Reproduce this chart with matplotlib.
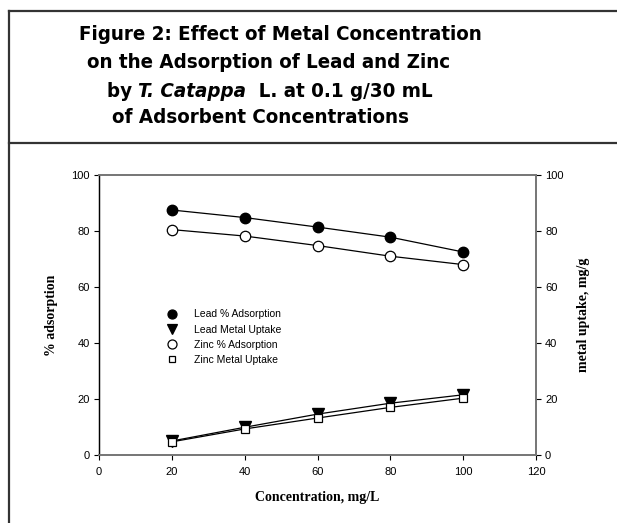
import matplotlib
matplotlib.use("Agg")
import matplotlib.pyplot as plt
from matplotlib.lines import Line2D

# metal concentration (mg/L)
concentration = [20, 40, 60, 80, 100]

# % adsorption
lead_adsorption = [87.5, 84.8, 81.4, 77.8, 72.5]
zinc_adsorption = [80.5, 78.2, 74.8, 71.0, 68.0]

# metal uptake (mg/g)
lead_uptake = [5.0, 9.9, 14.6, 18.5, 21.5]
zinc_uptake = [4.7, 9.3, 13.2, 17.0, 20.3]

x_ticks = [0, 20, 40, 60, 80, 100, 120]
y_ticks = [0, 20, 40, 60, 80, 100]

title_lines = [
    "Figure 2: Effect of Metal Concentration",
    "on the Adsorption of Lead and Zinc",
    None,  # mixed roman / italic line, built below
    "of Adsorbent Concentrations",
]

W, H = 617, 523
fig = plt.figure(figsize=(W / 100, H / 100), dpi=100)


def px(x, y):
    """pixel position (from top left) -> figure fraction"""
    return x / W, 1 - y / H


# frame around title and chart
border = dict(color="#333333", lw=1.6, transform=fig.transFigure)
fig.add_artist(Line2D([px(9, 0)[0]] * 2, [px(0, 11)[1], 0], **border))
fig.add_artist(Line2D([px(9, 0)[0], 1], [px(0, 11)[1]] * 2, **border))
fig.add_artist(Line2D([px(9, 0)[0], 1], [px(0, 143)[1]] * 2, **border))

# title
tfont = dict(family="DejaVu Sans", weight="bold", size=14.7, stretch="condensed")
centers = [280, 269, 270, 261]
baselines = [40, 68, 97, 123]
renderer = fig.canvas.get_renderer()
for line, cx, by in zip(title_lines, centers, baselines):
    if line is not None:
        fig.text(*px(cx, by), line, ha="center", va="baseline", **tfont)
        continue
    pieces = [("by ", "normal"), ("T. Catappa", "italic"), ("  L. at 0.1 g/30 mL", "normal")]
    texts = [fig.text(0, 0, s, va="baseline", style=st, **tfont) for s, st in pieces]
    widths = [t.get_window_extent(renderer).width for t in texts]
    x0 = cx - sum(widths) / 2
    for t, w in zip(texts, widths):
        t.set_position(px(x0, by))
        x0 += w

# chart area
ax = fig.add_axes([99 / W, (H - 455) / H, 437 / W, 280 / H])
ax2 = ax.twinx()

ax.plot(concentration, lead_adsorption, color="black", lw=0.9, marker="o", ms=7.5,
        mfc="black", mec="black", label="Lead % Adsorption")
ax2.plot(concentration, lead_uptake, color="black", lw=0.9, marker="v", ms=8,
         mfc="black", mec="black", label="Lead Metal Uptake")
ax.plot(concentration, zinc_adsorption, color="black", lw=0.9, marker="o", ms=7.5,
        mfc="white", mec="black", mew=0.9, label="Zinc % Adsorption")
ax2.plot(concentration, zinc_uptake, color="black", lw=0.9, marker="s", ms=5.5,
         mfc="white", mec="black", mew=0.9, label="Zinc Metal Uptake")

for a in (ax, ax2):
    a.set_xlim(0, 120)
    a.set_ylim(0, 100)
    a.set_yticks(y_ticks)
    for side in ("top", "right", "bottom"):
        a.spines[side].set_color("#777777")
        a.spines[side].set_linewidth(1.3)
    a.spines["left"].set_color("black")
    a.spines["left"].set_linewidth(0.9)
    a.tick_params(direction="out", length=3.5, width=0.8, labelsize=8, pad=3)

ax.set_xticks(x_ticks)
ax.tick_params(axis="x", pad=5)
for a in (ax, ax2):
    for lab in a.get_xticklabels() + a.get_yticklabels():
        lab.set_family("Liberation Sans")

lfont = dict(family="Liberation Serif", weight="bold", size=10)
ax.set_xlabel("Concentration, mg/L", labelpad=10, **lfont)
ax.set_ylabel("% adsorption", labelpad=10, **lfont)
ax2.set_ylabel("metal uptake, mg/g", labelpad=10, **lfont)

handles = ax.get_lines()[:1] + ax2.get_lines()[:1] + ax.get_lines()[1:] + ax2.get_lines()[1:]
legend_sizes = [6.5, 6.5, 6.5, 4.5]
handles = [Line2D([], [], ls="none", marker=h.get_marker(), ms=s,
                  mfc=h.get_markerfacecolor(), mec="black", mew=0.9, label=h.get_label())
           for h, s in zip(handles, legend_sizes)]
leg = ax2.legend(handles=handles, loc="upper left", bbox_to_anchor=(0.135, 0.55),
                 frameon=False, handlelength=1.0, handletextpad=1.7, labelspacing=0.5,
                 borderpad=0.3, prop={"family": "Liberation Sans", "size": 7.5})

fig.savefig("out.png", dpi=100)
